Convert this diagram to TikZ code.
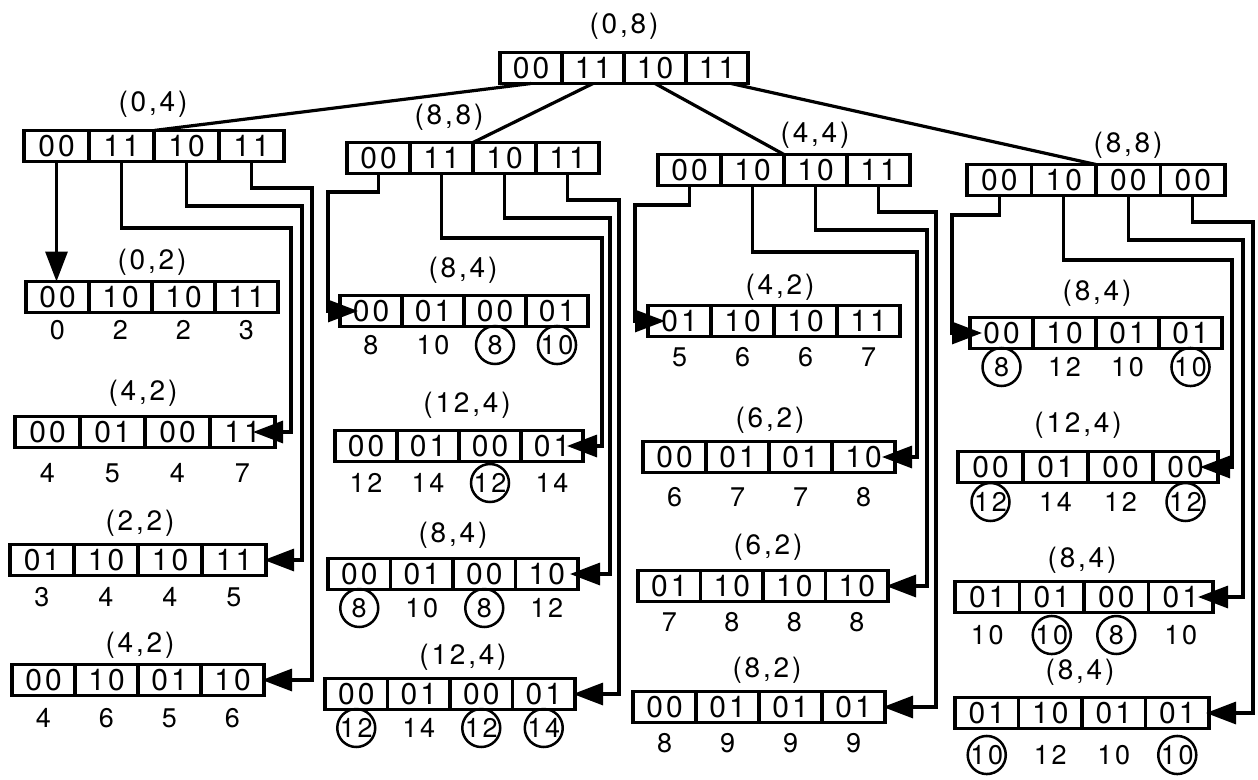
\documentclass[tikz,border=0pt]{standalone}
\usepackage{fontspec}
\setmainfont{TeX Gyre Heros}
\newfontfamily\spaced{TeX Gyre Heros}[LetterSpace=10]
\usetikzlibrary{arrows.meta}
\tikzset{
  cell/.style={draw, line width=3.2pt, minimum height=31pt, inner sep=0pt, outer sep=0pt, anchor=west, font=\spaced\fontsize{30}{32}\selectfont},
  lab/.style={font=\spaced\fontsize{28}{30}\selectfont, inner sep=0pt},
  num/.style={font=\spaced\fontsize{27}{30}\selectfont, inner sep=0pt},
  cnum/.style={num, circle, draw, line width=2.5pt, minimum size=38pt},
  conn/.style={line width=3.2pt, -{Triangle[length=30pt,width=22pt]}},
  tie/.style={line width=3.2pt},
}
\newcommand\reg[8]{%
  \node[cell, minimum width=#4pt] (#1-0) at (#2,#3) {#5};
  \node[cell, minimum width=#4pt] (#1-1) at (#1-0.east) {#6};
  \node[cell, minimum width=#4pt] (#1-2) at (#1-1.east) {#7};
  \node[cell, minimum width=#4pt] (#1-3) at (#1-2.east) {#8};
}
\newcommand\nums[3]{\foreach \i/\s/\t in {#3}{\node[\s] (#1-n\i) at (#1-\i.center |- 0,#2) {\t};}}
\begin{document}
\begin{tikzpicture}[x=1pt,y=-1pt]
\useasboundingbox (0,0) rectangle (1258,779);
% root
\reg{R}{500}{68}{62}{00}{11}{10}{11}
\node[lab] (R-lab) at (624,26) {(0,8)};
% column 1
\reg{A}{24}{146}{65}{00}{11}{10}{11}
\node[lab] (A-lab) at (153,104) {(0,4)};
\reg{A0}{26}{297}{63}{00}{10}{10}{11}
\node[lab] (A0-lab) at (152,262) {(0,2)};
\nums{A0}{330}{0/num/0,1/num/2,2/num/2,3/num/3}
\reg{A1}{15}{432}{65}{00}{01}{00}{11}
\node[lab] (A1-lab) at (143,393) {(4,2)};
\nums{A1}{473}{0/num/4,1/num/5,2/num/4,3/num/7}
\reg{A2}{10}{560}{64}{01}{10}{10}{11}
\node[lab] (A2-lab) at (140,523) {(2,2)};
\nums{A2}{597}{0/num/3,1/num/4,2/num/4,3/num/5}
\reg{A3}{12}{680}{63}{00}{10}{01}{10}
\node[lab] (A3-lab) at (140,645) {(4,2)};
\nums{A3}{718}{0/num/4,1/num/6,2/num/5,3/num/6}
% column 2
\reg{B}{347}{158}{63}{00}{11}{10}{11}
\node[lab] (B-lab) at (449,117) {(8,8)};
\reg{B0}{340}{311}{62}{00}{01}{00}{01}
\node[lab] (B0-lab) at (463,270) {(8,4)};
\nums{B0}{345}{0/num/8,1/num/10,2/cnum/8,3/cnum/10}
\reg{B1}{335}{446}{62}{00}{01}{00}{01}
\node[lab] (B1-lab) at (467,405) {(12,4)};
\nums{B1}{483}{0/num/12,1/num/14,2/cnum/12,3/num/14}
\reg{B2}{328}{574}{62.5}{00}{01}{00}{10}
\node[lab] (B2-lab) at (453,535) {(8,4)};
\nums{B2}{608}{0/cnum/8,1/num/10,2/cnum/8,3/num/12}
\reg{B3}{325}{694}{62.5}{00}{01}{00}{01}
\node[lab] (B3-lab) at (463,657) {(12,4)};
\nums{B3}{728}{0/cnum/12,1/num/14,2/cnum/12,3/cnum/14}
% column 3
\reg{C}{658}{170}{63}{00}{10}{10}{11}
\node[lab] (C-lab) at (815,135) {(4,4)};
\reg{C0}{648}{321}{63}{01}{10}{10}{11}
\node[lab] (C0-lab) at (780,287) {(4,2)};
\nums{C0}{357}{0/num/5,1/num/6,2/num/6,3/num/7}
\reg{C1}{643}{457}{63}{00}{01}{01}{10}
\node[lab] (C1-lab) at (770,420) {(6,2)};
\nums{C1}{497}{0/num/6,1/num/7,2/num/7,3/num/8}
\reg{C2}{638}{586}{62.5}{01}{10}{10}{10}
\node[lab] (C2-lab) at (768,547) {(6,2)};
\nums{C2}{622}{0/num/7,1/num/8,2/num/8,3/num/8}
\reg{C3}{633}{707}{63}{00}{01}{01}{01}
\node[lab] (C3-lab) at (767,670) {(8,2)};
\nums{C3}{743}{0/num/8,1/num/9,2/num/9,3/num/9}
% column 4
\reg{D}{967}{180}{64.5}{00}{10}{00}{00}
\node[lab] (D-lab) at (1128,145) {(8,8)};
\reg{D0}{970}{333}{63}{00}{10}{01}{01}
\node[lab] (D0-lab) at (1097,293) {(8,4)};
\nums{D0}{367}{0/cnum/8,1/num/12,2/num/10,3/cnum/10}
\reg{D1}{958}{467}{65}{00}{01}{00}{00}
\node[lab] (D1-lab) at (1078,425) {(12,4)};
\nums{D1}{502}{0/cnum/12,1/num/14,2/num/12,3/cnum/12}
\reg{D2}{955}{597}{64.5}{01}{01}{00}{01}
\node[lab] (D2-lab) at (1082,560) {(8,4)};
\nums{D2}{635}{0/num/10,1/cnum/10,2/cnum/8,3/num/10}
\reg{D3}{955}{713}{63.5}{01}{10}{01}{01}
\node[lab] (D3-lab) at (1080,672) {(8,4)};
\nums{D3}{755}{0/cnum/10,1/num/12,2/num/10,3/cnum/10}
% tree edges from the root
\draw[tie] (R-0.south) -- (A-1.north east);
\draw[tie] (R-1.south) -- (B-1.north east);
\draw[tie] (R-2.south) -- (C-1.north east);
\draw[tie] ([xshift=14pt]R-3.south) -- (D-1.north east);
% column 1 connectors
\draw[conn] (A-0.south) -- (A-0.south |- A0-0.north);
\draw[conn] (A-1.south) |- (291,228) |- ([xshift=-22pt]A1-3.east);
\draw[conn] (A-2.south) |- (302,206) |- ([xshift=-2pt]A2-3.east);
\draw[conn] (A-3.south) |- (312,188) |- ([xshift=-2pt]A3-3.east);
% column 2 connectors
\draw[conn] (B-0.south) |- (328,192) |- ([xshift=18pt]B0-0.west);
\draw[conn] (B-1.south) |- (602,238) |- ([xshift=-16pt]B1-3.east);
\draw[conn] (B-2.south) |- (610,218) |- ([xshift=-8pt]B2-3.east);
\draw[conn] (B-3.south) |- (619,200) |- ([xshift=-2pt]B3-3.east);
% column 3 connectors
\draw[conn] (C-0.south) |- (635,205) |- ([xshift=17pt]C0-0.west);
\draw[conn] (C-1.south) |- (917,252) |- ([xshift=-13pt]C1-3.east);
\draw[conn] (C-2.south) |- (927,230) |- ([xshift=-2pt]C2-3.east);
\draw[conn] (C-3.south) |- (936,212) |- ([xshift=-2pt]C3-3.east);
% column 4 connectors
\draw[conn] (D-0.south) |- (952,215) |- ([xshift=12pt]D0-0.west);
\draw[conn] (D-1.south) |- (1232,260) |- ([xshift=-18pt]D1-3.east);
\draw[conn] (D-2.south) |- (1243,240) |- ([xshift=-15pt]D2-3.east);
\draw[conn] (D-3.south) |- (1253,222) |- ([xshift=-3pt]D3-3.east);
\end{tikzpicture}
\end{document}
